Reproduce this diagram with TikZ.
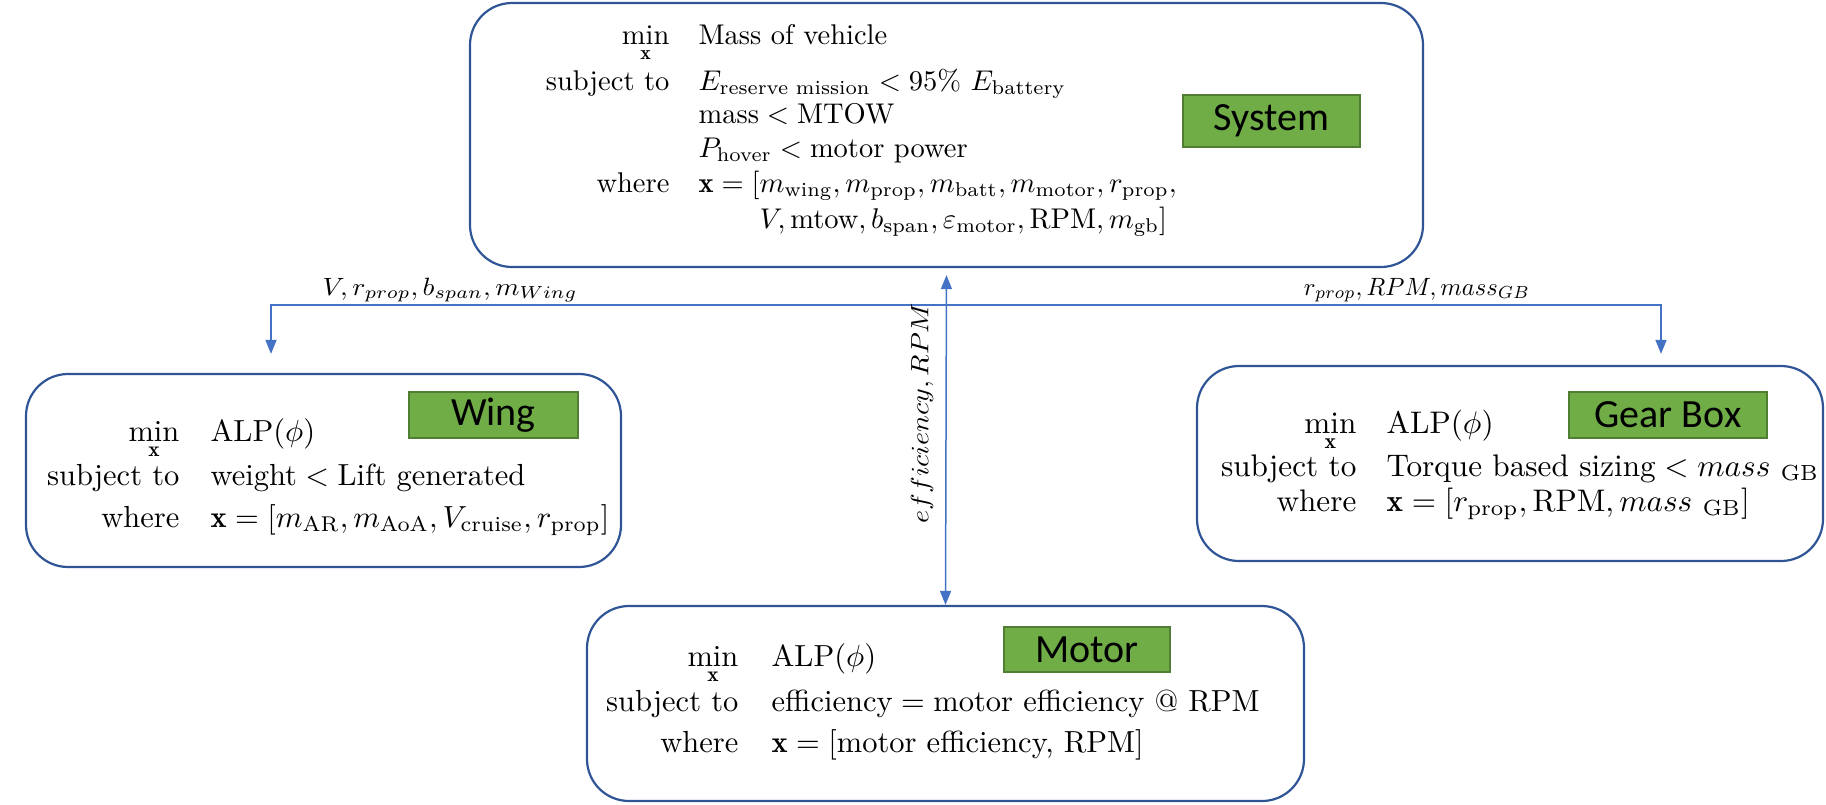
\documentclass[tikz,border=0pt]{standalone}
\usepackage{amsmath}
\usepackage{graphicx}
\usepackage{fontspec}
\newfontfamily\labfont{Carlito}
\usetikzlibrary{arrows.meta}
\definecolor{boxblue}{HTML}{2F5597}
\definecolor{arrblue}{HTML}{4472C4}
\definecolor{tagfill}{HTML}{70AD47}
\definecolor{tagdraw}{HTML}{507E32}
\tikzset{
  optbox/.style={draw=boxblue, line width=2.2pt, rounded corners=42pt, inner sep=0pt},
  tag/.style={draw=tagdraw, fill=tagfill, line width=1.2pt, inner sep=0pt,
    font=\labfont\fontsize{40}{42}\selectfont},
  lblS/.style={anchor=base east, inner sep=0pt, scale=2.85},
  cntS/.style={anchor=base west, inner sep=0pt, scale=2.85},
  lblB/.style={anchor=base east, inner sep=0pt, scale=3.05},
  cntB/.style={anchor=base west, inner sep=0pt, scale=3.05},
  lblG/.style={anchor=base east, inner sep=0pt, scale=3.12},
  cntG/.style={anchor=base west, inner sep=0pt, scale=3.12},
  subx/.style={anchor=north, inner sep=0pt, yshift=-5pt},
  conn/.style={draw=arrblue, line width=1.5pt,
    {Triangle[length=14pt,width=11pt]}-{Triangle[length=14pt,width=11pt]}},
  flow/.style={inner sep=0pt, scale=2.5}
}
\newcommand{\subxtext}{$\scriptstyle\mathbf{x}$}
\begin{document}
\begin{tikzpicture}[x=1pt,y=-1pt]
\useasboundingbox (0,0) rectangle (1826,804);

% boxes
\node[optbox, minimum width=953pt, minimum height=264pt] (sys) at (946.5,135) {};
\node[optbox, minimum width=595pt, minimum height=193pt] (wing) at (323.5,470.5) {};
\node[optbox, minimum width=626pt, minimum height=195pt] (gear) at (1510,463.5) {};
\node[optbox, minimum width=717pt, minimum height=195pt] (motor) at (945.5,703.5) {};

% tags
\node[tag, minimum width=177pt, minimum height=52pt] (tsys) at (1271.5,121) {System};
\node[tag, minimum width=169pt, minimum height=46pt] (twing) at (493.5,415) {Wing};
\node[tag, minimum width=198pt, minimum height=46pt] (tgear) at (1668,415) {Gear Box};
\node[tag, minimum width=166pt, minimum height=45pt] (tmot) at (1087,649.5) {Motor};

% system text
\node[lblS] (s1l) at (670,44) {min};
\node[subx, scale=2.85] (s1x) at (s1l.south) {\subxtext};
\node[cntS] (s1c) at (698,44) {Mass of vehicle};
\node[lblS] (s2l) at (670,90) {subject to};
\node[cntS] (s2c) at (698,90) {$E_{\text{reserve mission}} < 95\%\ E_{\text{battery}}$};
\node[cntS] (s3c) at (698,123) {$\text{mass} < \text{MTOW}$};
\node[cntS] (s4c) at (698,157) {$P_{\text{hover}} < \text{motor power}$};
\node[lblS] (s5l) at (670,192) {where};
\node[cntS] (s5c) at (698,192) {$\mathbf{x} = [m_{\text{wing}}, m_{\text{prop}}, m_{\text{batt}}, m_{\text{motor}}, r_{\text{prop}},$};
\node[cntS] (s6c) at (698,228) {$\phantom{\mathbf{x} = [}V, \text{mtow}, b_{\text{span}}, \varepsilon_{\text{motor}}, \text{RPM}, m_{\text{gb}}]$};

% wing text
\node[lblB] (w1l) at (180,441) {min};
\node[subx, scale=3.05] (w1x) at (w1l.south) {\subxtext};
\node[cntB] (w1c) at (210,441) {$\text{ALP}(\phi)$};
\node[lblB] (w2l) at (180,485) {subject to};
\node[cntB] (w2c) at (210,485) {$\text{weight} < \text{Lift generated}$};
\node[lblB] (w3l) at (180,527) {where};
\node[cntB] (w3c) at (210,527) {$\mathbf{x} = [m_{\text{AR}}, m_{\text{AoA}}, V_{\text{cruise}}, r_{\text{prop}}]$};

% gear box text
\node[lblG] (g1l) at (1357,433) {min};
\node[subx, scale=3.12] (g1x) at (g1l.south) {\subxtext};
\node[cntG] (g1c) at (1386,433) {$\text{ALP}(\phi)$};
\node[lblG] (g2l) at (1357,476) {subject to};
\node[cntG] (g2c) at (1386,476) {$\text{Torque based sizing} < mass\ {}_{\text{GB}}$};
\node[lblG] (g3l) at (1357,511) {where};
\node[cntG] (g3c) at (1386,511) {$\mathbf{x} = [r_{\text{prop}}, \text{RPM}, mass\ {}_{\text{GB}}]$};

% motor text
\node[lblB] (m1l) at (739,666) {min};
\node[subx, scale=3.05] (m1x) at (m1l.south) {\subxtext};
\node[cntB] (m1c) at (771,666) {$\text{ALP}(\phi)$};
\node[lblB] (m2l) at (739,711) {subject to};
\node[cntB] (m2c) at (771,711) {$\text{efficiency} = \text{motor efficiency @ RPM}$};
\node[lblB] (m3l) at (739,752) {where};
\node[cntB] (m3c) at (771,752) {$\mathbf{x} = [\text{motor efficiency, RPM}]$};

% connectors
\coordinate (bus) at (946,305);
\coordinate (wx) at (271,0);
\coordinate (gx) at (1661,0);
\draw[conn, shorten <=19pt, shorten >=11pt] (wing.north -| wx) |- (bus) -| (gear.north -| gx);
\draw[conn, shorten <=7pt] (sys.south) -- (motor.north);

% connector labels
\node[flow, anchor=base] (lw) at (450,295) {\scalebox{1.1}[1]{$V, r_{prop}, b_{span}, m_{Wing}$}};
\node[flow, anchor=base] (lg) at (1417,295) {\scalebox{0.98}[1]{$r_{prop}, RPM, mass_{GB}$}};
\node[flow, rotate=90] (lm) at (922,413) {\scalebox{1.12}[1]{$efficiency, RPM$}};
\end{tikzpicture}
\end{document}
